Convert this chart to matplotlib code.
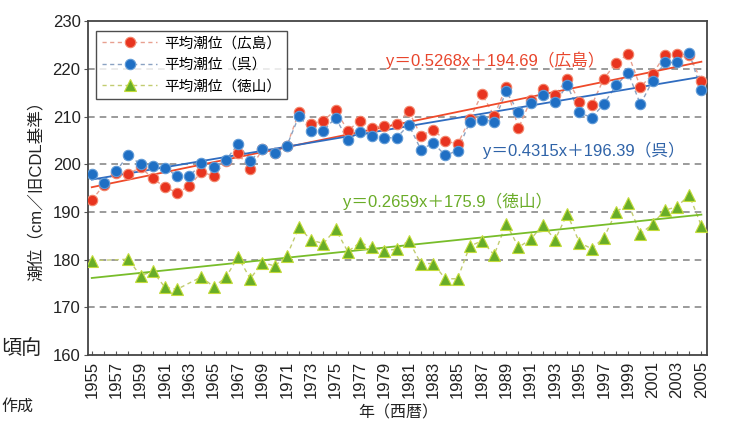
import matplotlib
matplotlib.use("Agg")
import matplotlib.pyplot as plt
from matplotlib.lines import Line2D

plt.rcParams['font.family'] = ['Liberation Sans', 'Noto Sans CJK JP', 'DejaVu Sans']

# Annual mean sea level (cm above the old CDL datum)
years = list(range(1955, 2006))

hiroshima = [192.5, 195.7, 198.3, 198.0, 199.4, 197.1, 195.2, 194.1, 195.4, 198.5,
             197.5, 200.8, 202.3, 199.0, 203.2, 202.5, 203.9, 211.0, 208.5, 209.2,
             211.4, 207.1, 209.2, 207.7, 208.1, 208.5, 211.2, 206.0, 207.3, 205.0,
             204.2, 209.5, 214.8, 210.2, 216.3, 207.6, 213.5, 215.9, 214.5, 218.0,
             213.2, 212.4, 218.0, 221.3, 223.2, 216.2, 219.0, 222.9, 223.2, 223.0,
             217.5]

kure = [198.0, 196.2, 198.6, 202.0, 200.0, 199.6, 199.2, 197.6, 197.5, 200.2,
        199.5, 200.9, 204.3, 200.8, 203.2, 202.5, 203.9, 210.2, 207.1, 207.1,
        209.8, 205.1, 206.9, 206.0, 205.6, 205.6, 208.3, 203.1, 204.5, 201.9,
        202.9, 208.9, 209.4, 209.0, 215.4, 210.9, 212.8, 214.5, 213.0, 216.6,
        210.9, 209.8, 212.7, 216.6, 219.2, 212.6, 217.6, 221.4, 221.4, 223.4,
        215.6]

tokuyama_years = [1955, 1958, 1959, 1960, 1961, 1962, 1964, 1965, 1966, 1967,
                  1968, 1969, 1970, 1971, 1972, 1973, 1974, 1975, 1976, 1977,
                  1978, 1979, 1980, 1981, 1982, 1983, 1984, 1985, 1986, 1987,
                  1988, 1989, 1990, 1991, 1992, 1993, 1994, 1995, 1996, 1997,
                  1998, 1999, 2000, 2001, 2002, 2003, 2004, 2005]
tokuyama = [179.8, 180.1, 176.6, 177.6, 174.2, 173.8, 176.4, 174.3, 176.3, 180.6,
            176.0, 179.4, 178.7, 180.8, 186.8, 184.1, 183.4, 186.4, 181.7, 183.6,
            182.6, 181.9, 182.2, 184.0, 179.2, 179.2, 176.0, 176.0, 182.8, 184.0,
            181.0, 187.6, 182.6, 184.3, 187.3, 184.2, 189.6, 183.6, 182.3, 184.6,
            190.0, 191.8, 185.4, 187.5, 190.4, 191.1, 193.6, 187.1]

series_labels = ['平均潮位（広島）', '平均潮位（呉）', '平均潮位（徳山）']

# Linear trends, x = 1 for 1955
trend_slopes = [0.5268, 0.4315, 0.2659]
trend_intercepts = [194.69, 196.39, 175.9]
trend_labels = ['y＝0.5268x＋194.69（広島）', 'y＝0.4315x＋196.39（呉）',
                'y＝0.2659x＋175.9（徳山）']

year_ticks = list(range(1955, 2006, 2))
level_ticks = list(range(160, 231, 10))

marker_colors = ['#e8341f', '#1f6fc4', '#68ad28']
marker_edges = ['#f3866c', '#5f9ad6', '#c4dc3a']
dash_colors = ['#e8a090', '#8aa2c2', '#c2cc70']
trend_colors = ['#ef4a2a', '#2f6cc0', '#78bd2a']
text_colors = ['#e8452c', '#2f63a8', '#6aac28']
markers = ['o', 'o', '^']

fig = plt.figure(figsize=(7.31, 4.23), dpi=100)
W, H = 731, 423
ax = fig.add_axes([87.5 / W, 1 - 355 / H, 619 / W, 333.5 / H])

series_x = [years, years, tokuyama_years]
series_y = [hiroshima, kure, tokuyama]

# fitted trend lines
for k in range(3):
    xs = [years[0], years[-1]]
    ys = [trend_slopes[k] * (x - 1954) + trend_intercepts[k] for x in xs]
    ax.plot(xs, ys, color=trend_colors[k], lw=1.3, zorder=3)

# observations joined by dashed lines
for k in range(3):
    ax.plot(series_x[k], series_y[k], linestyle=(0, (3, 2.5)), lw=1.0,
            color=dash_colors[k], zorder=2)
    ax.plot(series_x[k], series_y[k], linestyle='none', marker=markers[k],
            markersize=7.5 if k < 2 else 8.5, markerfacecolor=marker_colors[k],
            markeredgecolor=marker_edges[k], markeredgewidth=0.8, zorder=4 + k)

text_pos = [(1979.1, 221.9), (1987.1, 203.0), (1975.6, 192.3)]
for k in range(3):
    ax.text(text_pos[k][0], text_pos[k][1], trend_labels[k], color=text_colors[k],
            fontsize=12, ha='left', va='center', zorder=6)

ax.set_xlim(1954.65, 2005.42)
ax.set_ylim(160, 230)
ax.set_xticks(year_ticks)
ax.set_xticklabels([str(y) for y in year_ticks], rotation=90, fontsize=12, color='#222222')
ax.set_xticks(years, minor=True)
ax.set_yticks(level_ticks)
ax.set_yticklabels([str(v) for v in level_ticks], fontsize=12, color='#222222')
ax.tick_params(axis='x', which='both', direction='in', length=3, width=0.8,
               color='#555555', pad=4)
ax.tick_params(axis='y', direction='out', length=3, width=0.8, color='#555555', pad=2)

for v in level_ticks[1:-1]:
    ax.axhline(v, color='#8a8a8a', lw=1.2, linestyle=(0, (4, 3)), zorder=1)

for s in ax.spines.values():
    s.set_color('#444444')
    s.set_linewidth(1.3)

handles = [Line2D([], [], linestyle=(0, (3, 2.5)), lw=1.0, color=dash_colors[k],
                  marker=markers[k], markersize=7.5 if k < 2 else 8.5,
                  markerfacecolor=marker_colors[k], markeredgecolor=marker_edges[k],
                  markeredgewidth=0.8) for k in range(3)]
leg = ax.legend(handles, series_labels, loc='upper left', bbox_to_anchor=(0.0137, 0.9724),
                borderaxespad=0, fontsize=10.5, handlelength=3.8, handletextpad=0.5,
                labelspacing=0.5, borderpad=0.4, frameon=True, fancybox=False,
                numpoints=1)
leg.get_frame().set_edgecolor('#222222')
leg.get_frame().set_linewidth(1.0)
leg.set_zorder(8)

fig.text(36 / W, 1 - 187 / H, '潮位（cm／旧CDL基準）', rotation=90, ha='center',
         va='center', fontsize=12, color='#222222')
fig.text(398 / W, 1 - 413 / H, '年（西暦）', ha='center', va='center',
         fontsize=11.5, color='#222222')

# fragments of the surrounding page text
fig.text(1 / W, 1 - 348 / H, '頃向', ha='left', va='center', fontsize=14.5, color='#222222')
fig.text(1 / W, 1 - 406 / H, '作成', ha='left', va='center', fontsize=11.5, color='#222222')

fig.savefig('out.png', dpi=100)
